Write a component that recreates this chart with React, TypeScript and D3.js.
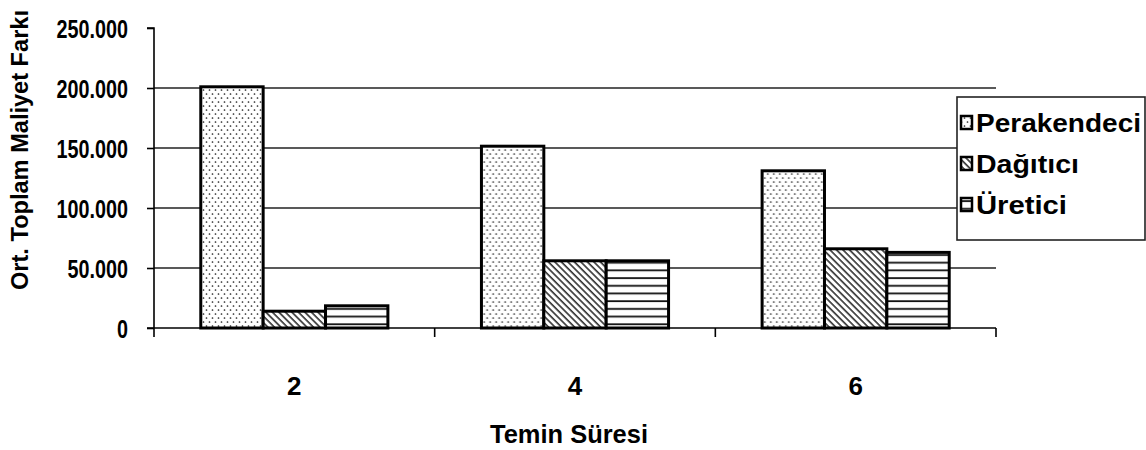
import React, { useEffect, useRef } from 'react';
import * as d3 from 'd3';

const categories = ['2', '4', '6'];
const seriesNames = ['Perakendeci', 'Dağıtıcı', 'Üretici'];
const perakendeci = [201000, 151500, 131000];
const dagitici = [14000, 56000, 66000];
const uretici = [18500, 56000, 63000];
const yTicks = [0, 50000, 100000, 150000, 200000, 250000];

const W = 1146;
const H = 450;
const left = 154;
const right = 996;
const top = 28;
const bottom = 328;

const patternIds = ['pDots', 'pDiag', 'pHoriz'];

const fmt = (v: number) => (v === 0 ? '0' : d3.format(',')(v).replace(/,/g, '.'));

export default function App() {
  const yAxisRef = useRef(null);

  const x0 = d3.scaleBand().domain(categories).range([left, right]).padding(0);
  const x1 = d3
    .scaleBand()
    .domain(seriesNames)
    .range([0, x0.bandwidth()])
    .paddingInner(0)
    .paddingOuter(0.75);
  const y = d3.scaleLinear().domain([0, 250000]).range([bottom, top]);

  const values = [perakendeci, dagitici, uretici];

  useEffect(() => {
    const g = d3.select(yAxisRef.current);
    g.selectAll('*').remove();
    g.call(d3.axisLeft(y).tickValues(yTicks).tickSize(7).tickPadding(0).tickFormat(() => ''))
      .call((s) => s.select('.domain').attr('stroke-width', 1.6).attr('d', `M-7,${top}H0V${bottom}`))
      .call((s) => s.selectAll('.tick line').attr('stroke-width', 1.6));
  }, []);

  const boundaries = [...categories.map((c) => x0(c) as number), right];

  return (
    <svg
      width={W}
      height={H}
      style={{ position: 'absolute', left: 0, top: 0, background: '#fff' }}
      fontFamily="'Liberation Sans', Arial, sans-serif"
    >
      <defs>
        <pattern id="pDots" width="6" height="8" patternUnits="userSpaceOnUse">
          <rect width="6" height="8" fill="#fff" />
          <circle cx="1.5" cy="2" r="0.85" fill="#222" />
          <circle cx="4.5" cy="6" r="0.85" fill="#222" />
        </pattern>
        <pattern
          id="pDiag"
          width="4.6"
          height="4.6"
          patternUnits="userSpaceOnUse"
          patternTransform="rotate(-45)"
        >
          <rect width="4.6" height="4.6" fill="#fff" />
          <line x1="1" y1="0" x2="1" y2="4.6" stroke="#111" strokeWidth="1.4" />
        </pattern>
        <pattern id="pHoriz" width="8" height="7.7" patternUnits="userSpaceOnUse" y={bottom}>
          <rect width="8" height="7.7" fill="#fff" />
          <line x1="0" y1="4" x2="8" y2="4" stroke="#111" strokeWidth="1.8" />
        </pattern>
      </defs>

      {/* gridlines */}
      {yTicks
        .filter((t) => t > 0 && t < 250000)
        .map((t) => (
          <line key={t} x1={left} x2={right} y1={y(t)} y2={y(t)} stroke="#222" strokeWidth={1.6} />
        ))}

      {/* bars */}
      {categories.map((c, ci) => (
        <g key={c} transform={`translate(${x0(c)},0)`}>
          {seriesNames.map((s, si) => (
            <rect
              key={s}
              x={x1(s)}
              y={y(values[si][ci])}
              width={x1.bandwidth()}
              height={y(0) - y(values[si][ci])}
              fill={`url(#${patternIds[si]})`}
              stroke="#000"
              strokeWidth={3}
            />
          ))}
        </g>
      ))}

      {/* y axis */}
      <g ref={yAxisRef} transform={`translate(${left},0)`} color="#000"></g>
      {yTicks.map((t) => (
        <text
          key={t}
          transform={`translate(128,${y(t) + 9.5}) scale(0.76,1)`}
          textAnchor="end"
          fontSize={26}
          fontWeight="bold"
        >
          {fmt(t)}
        </text>
      ))}

      {/* x axis */}
      <line x1={left - 7} x2={right} y1={bottom} y2={bottom} stroke="#000" strokeWidth={1.6} />
      {boundaries.map((b, i) => (
        <line key={i} x1={b} x2={b} y1={bottom} y2={bottom + 9} stroke="#000" strokeWidth={1.6} />
      ))}
      {categories.map((c) => (
        <text
          key={c}
          x={(x0(c) as number) + x0.bandwidth() / 2}
          y={395}
          textAnchor="middle"
          fontSize={26}
          fontWeight="bold"
        >
          {c}
        </text>
      ))}
      <text
        x={569}
        y={443}
        textAnchor="middle"
        fontSize={25}
        fontWeight="bold"
        textLength={158}
        lengthAdjust="spacingAndGlyphs"
      >
        Temin Süresi
      </text>

      {/* y title */}
      <text
        transform="translate(28,290) rotate(-90)"
        textAnchor="start"
        fontSize={23.5}
        fontWeight="bold"
        textLength={280}
        lengthAdjust="spacingAndGlyphs"
      >
        Ort. Toplam Maliyet Farkı
      </text>

      {/* legend */}
      <rect x={957} y={97} width={188} height={143} fill="#fff" stroke="#222" strokeWidth={1.6} />
      {seriesNames.map((s, i) => {
        const base = 132 + i * 41;
        const widths = [165, 103, 91];
        return (
          <g key={s}>
            <rect
              x={961}
              y={base - 16}
              width={11}
              height={13}
              fill={`url(#${patternIds[i]})`}
              stroke="#000"
              strokeWidth={2.5}
            />
            <text
              x={976}
              y={base}
              fontSize={26}
              fontWeight="bold"
              textLength={widths[i]}
              lengthAdjust="spacingAndGlyphs"
            >
              {s}
            </text>
          </g>
        );
      })}
    </svg>
  );
}
